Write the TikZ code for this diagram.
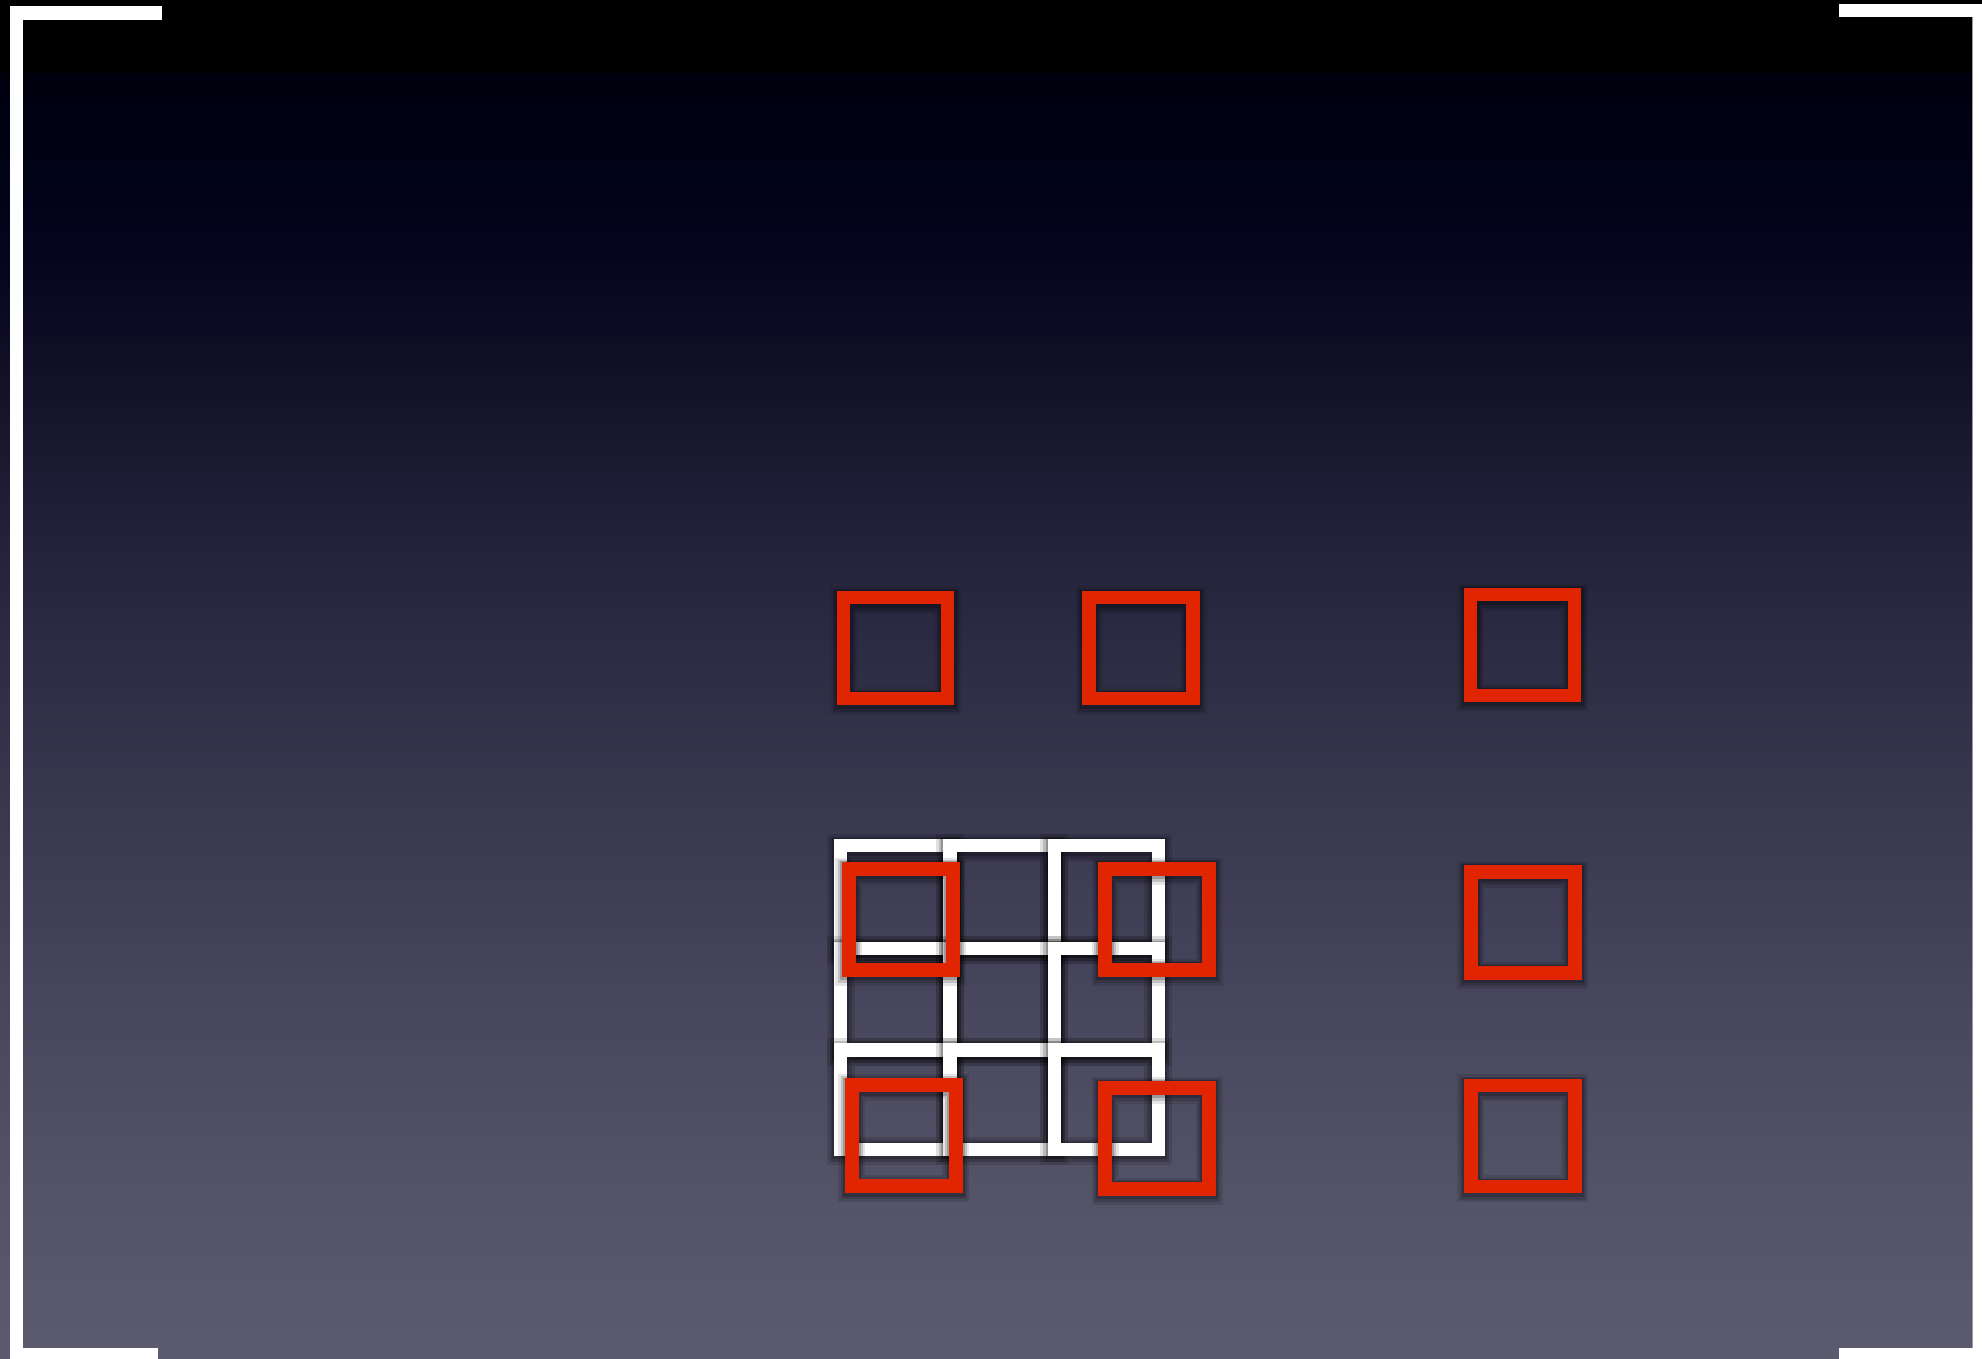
\documentclass[tikz,border=0pt]{standalone}
\definecolor{sqred}{RGB}{225,37,0}
\definecolor{bgA}{HTML}{000000}
\definecolor{bgA2}{HTML}{00000E}
\definecolor{bgB}{HTML}{000214}
\definecolor{bgC}{HTML}{05051E}
\definecolor{bgD}{HTML}{141329}
\definecolor{bgE}{HTML}{222038}
\definecolor{bgF}{HTML}{2C2B43}
\definecolor{bgG}{HTML}{38374E}
\definecolor{bgH}{HTML}{48465C}
\definecolor{bgI}{HTML}{545368}
\definecolor{bgJ}{HTML}{5B5A6E}
\begin{document}
\begin{tikzpicture}[x=0.5pt,y=-0.5pt,
  redsq/.style={draw=sqred, line width=6.9pt, minimum width=52pt, minimum height=50.5pt, inner sep=0pt,
    preaction={draw=black, draw opacity=0.10, line width=13.5pt, transform canvas={yshift=-1pt}},
    preaction={draw=black, draw opacity=0.15, line width=11pt, transform canvas={yshift=-1pt}},
    preaction={draw=black, draw opacity=0.20, line width=9pt, transform canvas={yshift=-0.6pt}}},
  gridsq/.style={draw=white, line width=6.7pt,
    preaction={draw=black, draw opacity=0.12, line width=14pt, transform canvas={yshift=-1pt}},
    preaction={draw=black, draw opacity=0.16, line width=11pt, transform canvas={yshift=-1pt}},
    preaction={draw=black, draw opacity=0.22, line width=8.6pt, transform canvas={yshift=-0.6pt}}},
  frame/.style={fill=white}]
\useasboundingbox (0,0) rectangle (1982,1359);
% background gradient
\fill[bgA] (0,0) rectangle (1982,75);
\shade[top color=bgA2, bottom color=bgB] (0,74) rectangle (1982,151);
\shade[top color=bgB, bottom color=bgC] (0,150) rectangle (1982,261);
\shade[top color=bgC, bottom color=bgD] (0,260) rectangle (1982,401);
\shade[top color=bgD, bottom color=bgE] (0,400) rectangle (1982,521);
\shade[top color=bgE, bottom color=bgF] (0,520) rectangle (1982,641);
\shade[top color=bgF, bottom color=bgG] (0,640) rectangle (1982,801);
\shade[top color=bgG, bottom color=bgH] (0,800) rectangle (1982,1001);
\shade[top color=bgH, bottom color=bgI] (0,1000) rectangle (1982,1201);
\shade[top color=bgI, bottom color=bgJ] (0,1200) rectangle (1982,1359);
% white frame corners
\fill[frame] (10,6) rectangle (162,20);
\fill[frame] (10,6) rectangle (23,1359);
\fill[frame] (10,1348) rectangle (158,1359);
\fill[frame] (1839,4) rectangle (1982,17);
\fill[frame] (1973,4) rectangle (1982,1359);
\fill[frame] (1839,1348) rectangle (1982,1359);
\draw[black!40, line width=0.6pt] (1972.5,17) -- (1972.5,1348);
% white 3x3 grid
\foreach \ya/\yb [count=\j] in {845.7/948.3, 948.3/1050, 1050/1149.3}{
  \foreach \xa/\xb [count=\i] in {840.7/950, 950/1054.3, 1054.3/1158.3}{
    \draw[gridsq] (\xa,\ya) rectangle (\xb,\yb);
  }
}
% red squares
\node[redsq] (r1) at (895.5,648) {};
\node[redsq] (r2) at (1141,648) {};
\node[redsq] (r3) at (1522.5,645) {};
\node[redsq] (r4) at (900.8,919.7) {};
\node[redsq] (r5) at (1157,919.7) {};
\node[redsq] (r6) at (1522.8,922.5) {};
\node[redsq] (r7) at (903.7,1135.8) {};
\node[redsq] (r8) at (1157,1138.7) {};
\node[redsq] (r9) at (1522.8,1136) {};
\end{tikzpicture}
\end{document}
